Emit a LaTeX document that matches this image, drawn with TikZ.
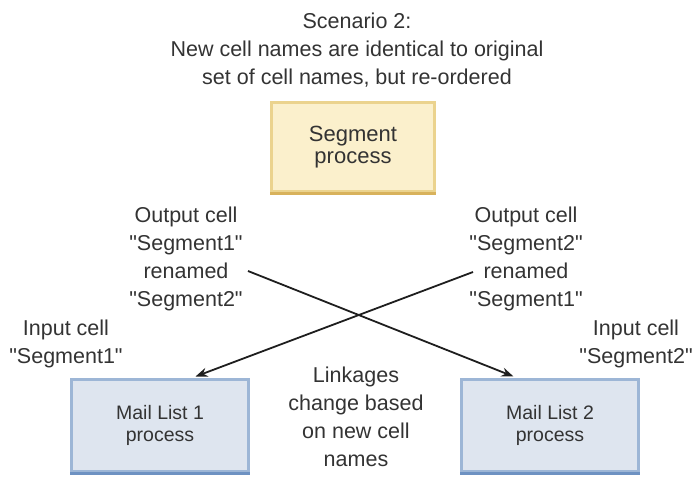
\documentclass[tikz,border=0pt]{standalone}
\usepackage{fontspec}
\setmainfont{Liberation Sans}
\usetikzlibrary{arrows.meta,calc}
\definecolor{txt}{HTML}{333333}
\definecolor{segfill}{HTML}{FBF0CC}
\definecolor{segedge}{HTML}{EBD38E}
\definecolor{segdark}{HTML}{D8B25C}
\definecolor{mlfill}{HTML}{DEE5EF}
\definecolor{mledge}{HTML}{9DB6D6}
\definecolor{mldark}{HTML}{6E92C2}
\definecolor{arr}{HTML}{1E1E1E}
\newcommand{\qd}{\textquotedbl}
\tikzset{
  lbl/.style={text=txt, align=center, inner sep=0pt, anchor=base,
    font=\fontsize{21.5}{27.8}\selectfont},
  segbox/.style={fill=segfill, draw=segedge, line width=3pt, inner sep=0pt,
    minimum width=163pt, minimum height=89pt, align=center, text=txt,
    font=\fontsize{22}{22.5}\selectfont},
  mlbox/.style={fill=mlfill, draw=mledge, line width=3pt, inner sep=0pt,
    minimum width=177pt, minimum height=92pt, align=center, text=txt,
    font=\fontsize{19.5}{22}\selectfont},
  link/.style={draw=arr, line width=1.8pt, -{Stealth[length=12pt,width=9pt]}}
}
\begin{document}
\begin{tikzpicture}[x=1pt,y=-1pt]
\useasboundingbox (0,0) rectangle (695,477);
% title (anchor=base is the last line's baseline)
\node[lbl] (title) at (357,84) {Scenario 2:\\New cell names are identical to original\\set of cell names, but re-ordered};
% boxes
\node[segbox] (seg) at (353,147) {Segment\\process};
\draw[segdark, line width=3pt] (seg.south west) -- (seg.south east);
\node[mlbox] (ml1) at (160,425.5) {Mail List 1\\process};
\draw[mldark, line width=3pt] (ml1.south west) -- (ml1.south east);
\node[mlbox] (ml2) at (550,425.5) {Mail List 2\\process};
\draw[mldark, line width=3pt] (ml2.south west) -- (ml2.south east);
% labels
\node[lbl] (out1) at (186,306) {Output cell\\\qd Segment1\qd\\renamed\\\qd Segment2\qd};
\node[lbl] (out2) at (526,306) {Output cell\\\qd Segment2\qd\\renamed\\\qd Segment1\qd};
\node[lbl] (in1) at (66,363) {Input cell\\\qd Segment1\qd};
\node[lbl] (in2) at (636,363) {Input cell\\\qd Segment2\qd};
\node[lbl] (lk) at (356,466) {Linkages\\change based\\on new cell\\names};
% connectors
\coordinate (a1) at (248,271);
\coordinate (b1) at (473,272);
\draw[link] (a1) -- ($(ml2.north west)+(53.5,-1.5)$);
\draw[link] (b1) -- ($(ml1.north west)+(125.5,-1.5)$);
\end{tikzpicture}
\end{document}
